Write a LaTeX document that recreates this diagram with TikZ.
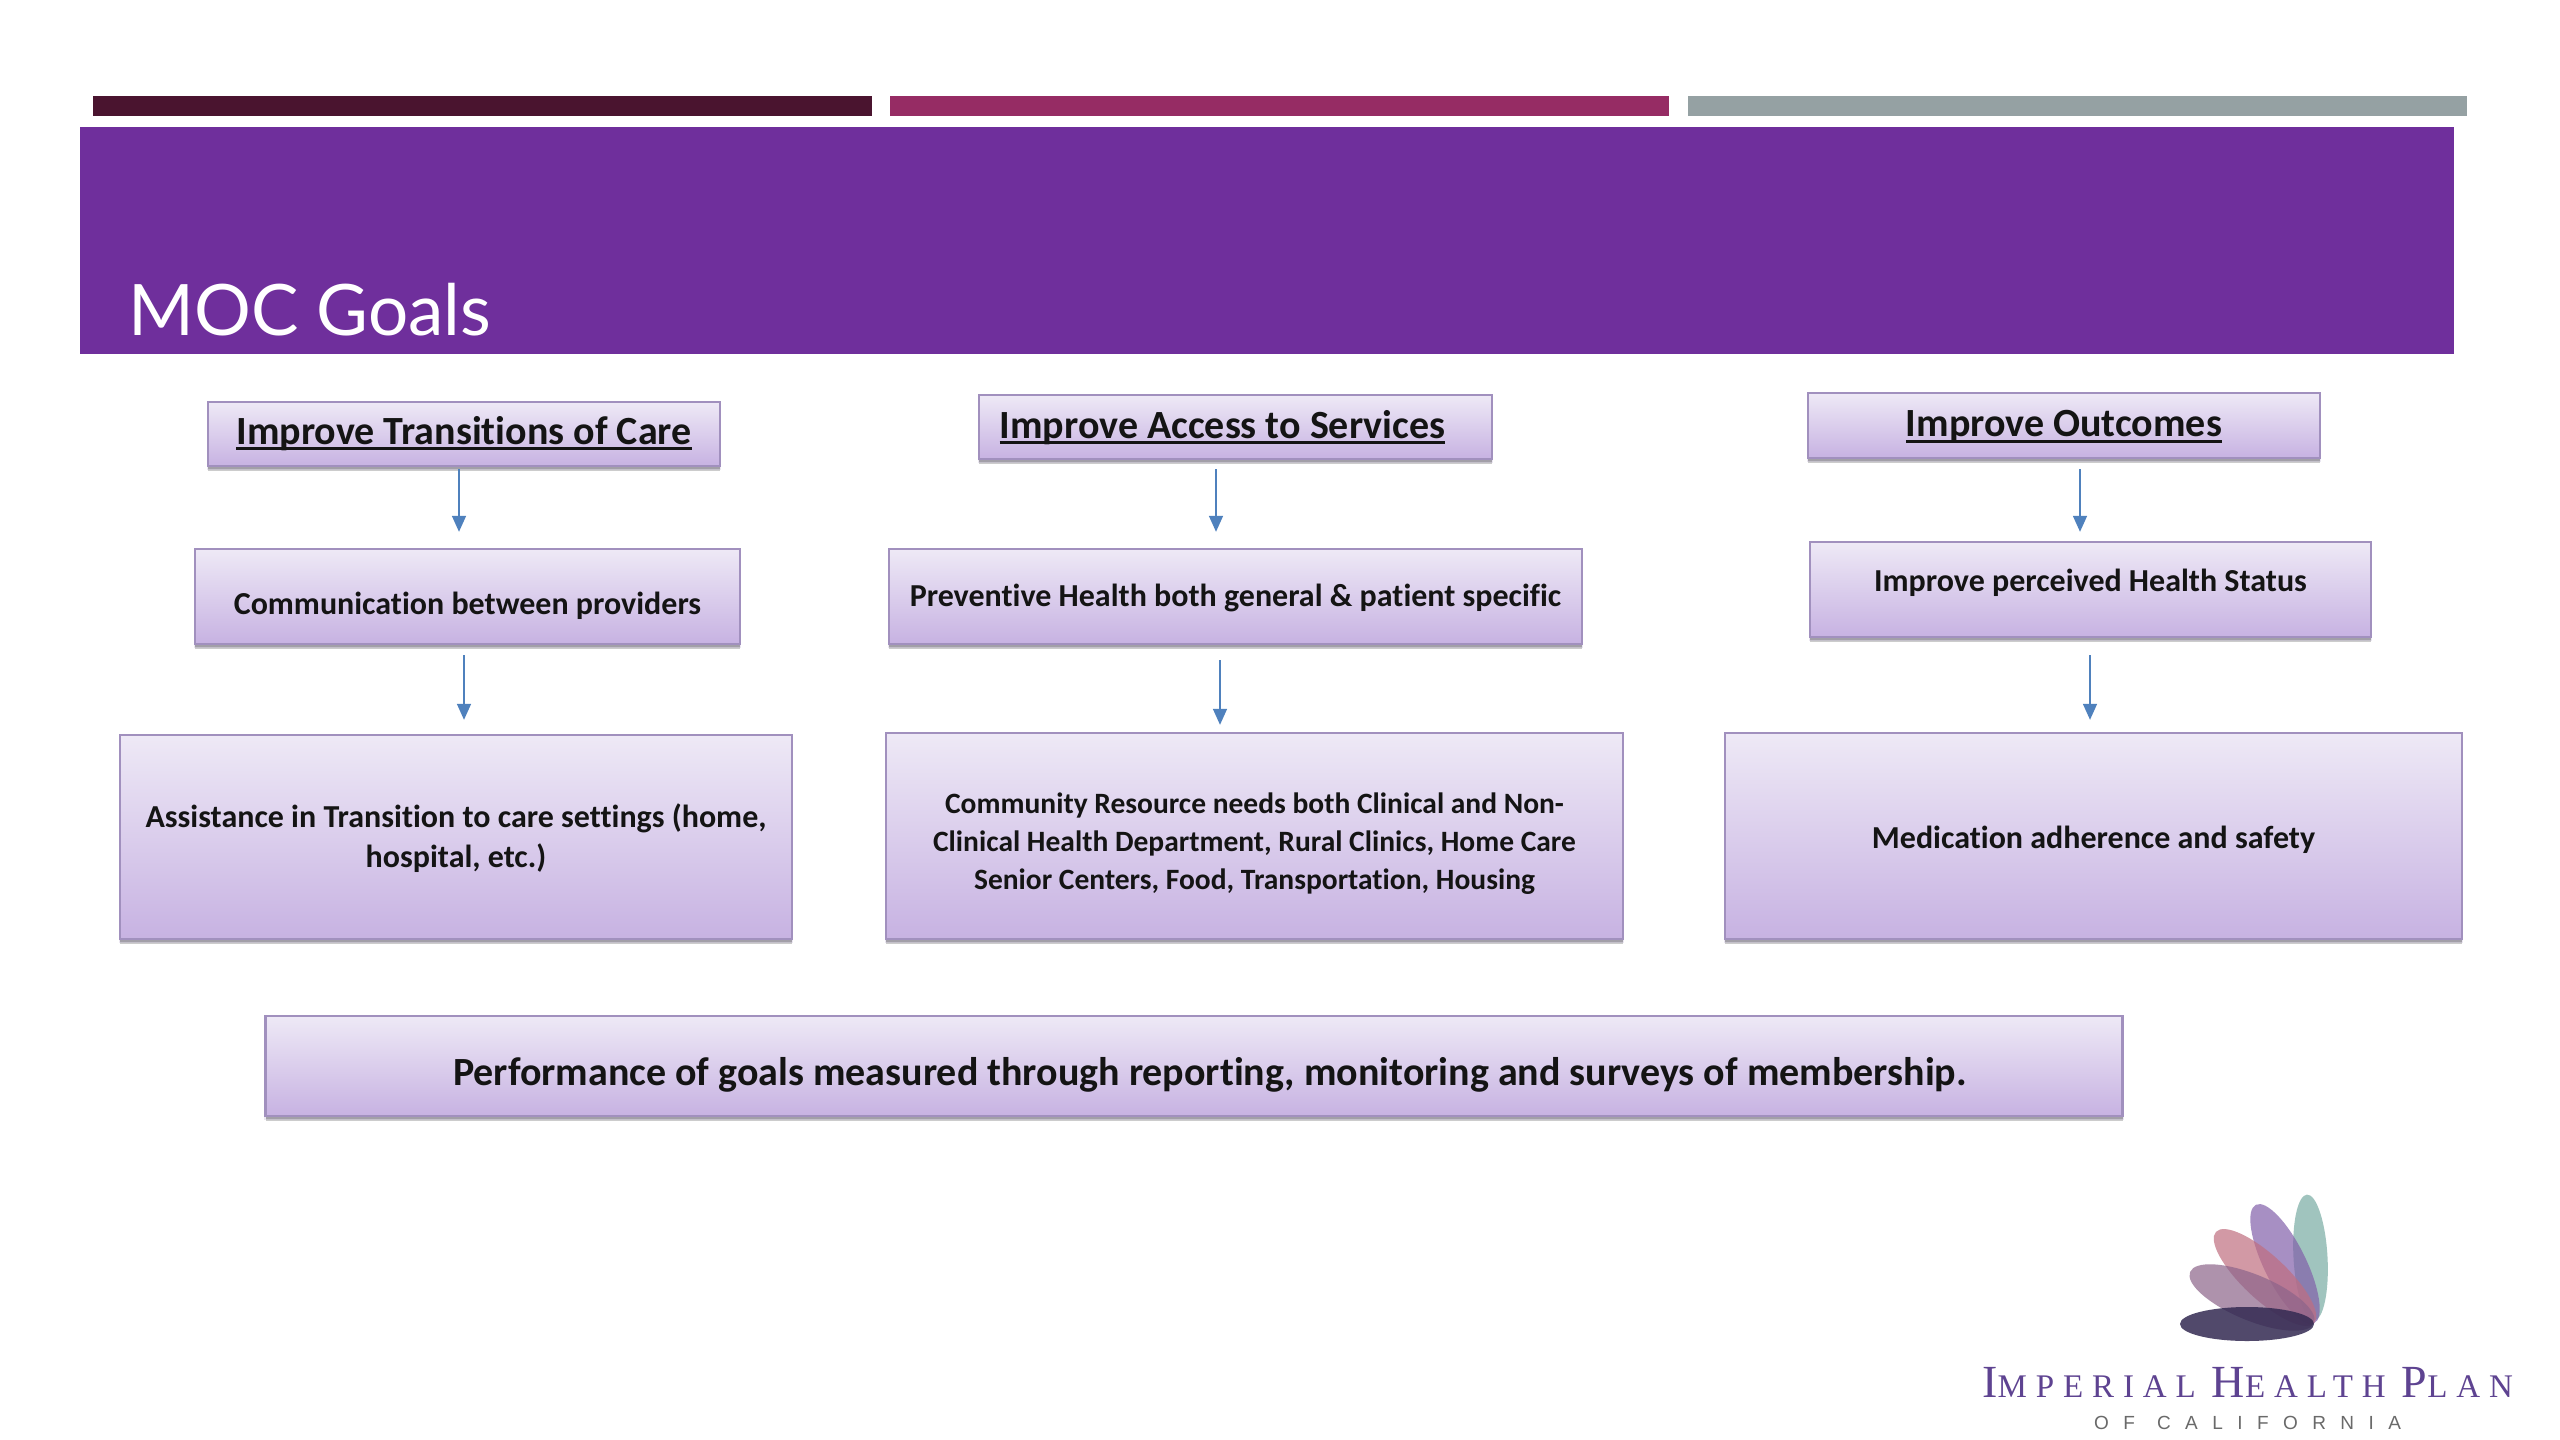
\documentclass[tikz,border=0pt]{standalone}
\usepackage{fontspec}
\setmainfont{Carlito}[Ligatures=NoCommon]
\newfontfamily\titlefont{Lato}
\newfontfamily\logoserif{Liberation Serif}
\newfontfamily\logosans{Liberation Sans}
\usetikzlibrary{shadows,arrows.meta}
\definecolor{barA}{HTML}{4A142F}
\definecolor{barB}{HTML}{962C64}
\definecolor{barC}{HTML}{95A1A3}
\definecolor{banner}{HTML}{6F2F9C}
\definecolor{boxtop}{HTML}{EEE9F6}
\definecolor{boxmid}{HTML}{DDD0EC}
\definecolor{boxbot}{HTML}{C7B2E2}
\definecolor{boxline}{HTML}{A190BE}
\definecolor{arrowblue}{HTML}{4F81BD}
\definecolor{logotext}{HTML}{5E4391}
\definecolor{logogrey}{HTML}{6A6A6A}
\definecolor{petalteal}{RGB}{160,196,190}
\definecolor{petalpurple}{RGB}{130,96,170}
\definecolor{petalrose}{RGB}{192,110,128}
\definecolor{petalmauve}{RGB}{140,100,138}
\definecolor{petaldark}{RGB}{51,42,82}
\newcommand\nudge[3]{\raisebox{#2}[0pt][0pt]{\makebox[0pt]{\hspace*{#1}\hspace*{#1}#3}}}
\newcommand\ulbox[1]{\setbox0\hbox{#1}\rlap{\copy0}\rule[-6pt]{\wd0}{2.6pt}}
\tikzset{
  goalbox/.style={draw=boxline,line width=2.4pt,top color=boxtop,middle color=boxmid,bottom color=boxbot,
    inner sep=0pt,align=center,font=\bfseries\fontsize{32}{40}\selectfont,text=black!92,
    drop shadow={shadow xshift=0pt,shadow yshift=-5pt,opacity=.2,fill=black},
    copy shadow={shadow xshift=0pt,shadow yshift=-2.5pt,opacity=.2,fill=black}},
  headbox/.style={goalbox,font=\bfseries\fontsize{40}{44}\selectfont},
  conn/.style={draw=arrowblue,line width=1.6pt,-{Triangle[length=16pt,width=14pt]}},
}
\begin{document}
\begin{tikzpicture}[x=1pt,y=-1pt]
\useasboundingbox (0,0) rectangle (2560,1440);
\fill[white] (0,0) rectangle (2560,1440);
% bars and banner
\fill[barA] (93,96) rectangle (872,116);
\fill[barB] (890,96) rectangle (1669,116);
\fill[barC] (1688,96) rectangle (2467,116);
\fill[banner] (80,127) rectangle (2454,354);
\node[anchor=base west,inner sep=0pt,text=white,font=\titlefont\fontsize{71}{80}\selectfont] (title) at (128,335) {MOC Goals};
% column 1
\node[headbox,minimum width=512pt,minimum height=64pt] (t1) at (464,434) {\nudge{0pt}{-10pt}{\ulbox{Improve Transitions of Care}}};
\node[goalbox,minimum width=545pt,minimum height=95pt] (m1) at (467.5,596.5) {\nudge{0pt}{-18pt}{Communication between providers}};
\node[goalbox,minimum width=672pt,minimum height=204pt] (b1) at (456,837) {\rule{0pt}{27pt}Assistance in Transition to care settings (home,\\hospital, etc.)};
% column 2
\node[headbox,minimum width=513pt,minimum height=64pt] (t2) at (1235.5,427) {\nudge{-13pt}{-11pt}{\ulbox{Improve Access to Services}}};
\node[goalbox,minimum width=693pt,minimum height=95pt] (m2) at (1235.5,596.5) {\nudge{0pt}{-10pt}{Preventive Health both general \& patient specific}};
\node[goalbox,minimum width=737pt,minimum height=206pt,font=\bfseries\fontsize{29.5}{38}\selectfont] (b2) at (1254.5,836) {\rule{0pt}{36pt}Community Resource needs both Clinical and Non-\\Clinical Health Department, Rural Clinics, Home Care\\Senior Centers, Food, Transportation, Housing};
% column 3
\node[headbox,minimum width=512pt,minimum height=65pt] (t3) at (2064,425.5) {\nudge{0pt}{-11pt}{\ulbox{Improve Outcomes}}};
\node[goalbox,minimum width=561pt,minimum height=95pt] (m3) at (2090.5,589.5) {\nudge{0pt}{-2pt}{Improve perceived Health Status}};
\node[goalbox,minimum width=737pt,minimum height=206pt] (b3) at (2093.5,836) {\nudge{0pt}{-12pt}{Medication adherence and safety}};
% bottom
\node[goalbox,minimum width=1857pt,minimum height=100pt,font=\bfseries\fontsize{40}{44}\selectfont] (perf) at (1194,1066) {\nudge{16pt}{-19pt}{Performance of goals measured through reporting, monitoring and surveys of membership.}};
% connectors
\coordinate (xa) at (459,0);
\coordinate (xb) at (464,0);
\coordinate (xc) at (1216,0);
\coordinate (xd) at (1220,0);
\coordinate (xe) at (2080,0);
\coordinate (xf) at (2090,0);
\draw[conn,shorten <=2pt,shorten >=16pt] (t1.south -| xa) -- (m1.north -| xa);
\draw[conn,shorten <=10pt,shorten >=14pt] (m1.south -| xb) -- (b1.north -| xb);
\draw[conn,shorten <=9pt,shorten >=16pt] (t2.south -| xc) -- (m2.north -| xc);
\draw[conn,shorten <=15pt,shorten >=7pt] (m2.south -| xd) -- (b2.north -| xd);
\draw[conn,shorten <=10pt,shorten >=9pt] (t3.south -| xe) -- (m3.north -| xe);
\draw[conn,shorten <=17pt,shorten >=12pt] (m3.south -| xf) -- (b3.north -| xf);
% logo
\begin{scope}[shift={(2310.5,1257.5)},rotate=-86.8]
  \fill[petalteal] (0,0) ellipse [x radius=63pt,y radius=17pt];
\end{scope}
\begin{scope}[shift={(2285,1264)},rotate=-63.8]
  \fill[petalpurple,opacity=.7] (0,0) ellipse [x radius=66pt,y radius=21pt];
\end{scope}
\begin{scope}[shift={(2265,1277.5)},rotate=-43]
  \fill[petalrose,opacity=.7] (0,0) ellipse [x radius=67pt,y radius=22pt];
\end{scope}
\begin{scope}[shift={(2252,1297.5)},rotate=-22.4]
  \fill[petalmauve,opacity=.7] (0,0) ellipse [x radius=67pt,y radius=23pt];
\end{scope}
\fill[petaldark,opacity=.85] (2247,1324) ellipse [x radius=67pt,y radius=17pt];
\node[anchor=base west,inner sep=0pt,text=logotext] (logoname) at (1982,1397)
  {\logoserif\fontsize{46}{50}\addfontfeature{LetterSpace=27}\selectfont I\fontsize{33}{50}\selectfont MPERIAL\hspace{16pt}\fontsize{46}{50}\selectfont H\fontsize{33}{50}\selectfont EALTH\hspace{16pt}\fontsize{46}{50}\selectfont P\fontsize{33}{50}\selectfont LAN};
\node[anchor=base west,inner sep=0pt,text=logogrey] (logosub) at (2094,1429)
  {\logosans\addfontfeature{LetterSpace=76}\fontsize{19}{22}\selectfont OF\hspace{22pt}CALIFORNIA};
\end{tikzpicture}
\end{document}
